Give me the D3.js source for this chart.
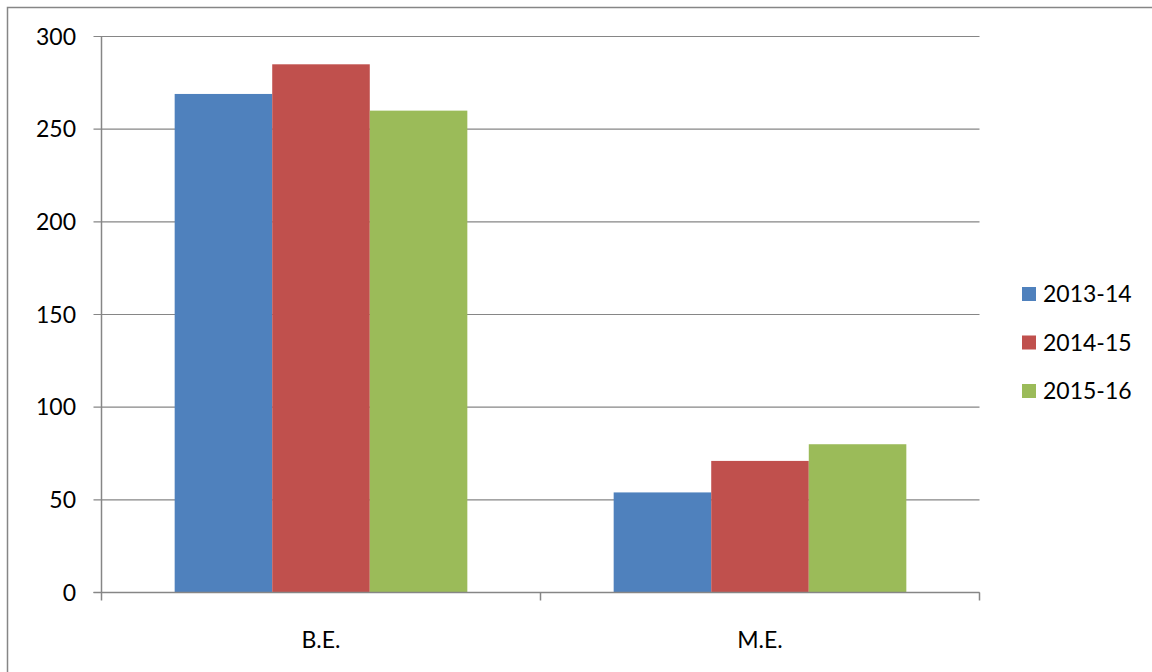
<!DOCTYPE html>
<html>
<head>
<meta charset="utf-8">
<script src="https://cdn.jsdelivr.net/npm/d3@7"></script>
<style>
  html, body { margin: 0; padding: 0; background: #fff; }
  svg { display: block; font-family: Lato, "Open Sans", sans-serif; }
</style>
</head>
<body>
<div class="container"></div>
<script>
const categories = ['B.E.', 'M.E.'];
const seriesNames = ['2013-14', '2014-15', '2015-16'];
const seriesValues = [
  [269, 54],
  [285, 71],
  [260, 80],
];
const yTicks = [0, 50, 100, 150, 200, 250, 300];
const colors = ['#4F81BD', '#C0504D', '#9BBB59'];

const width = 1152;
const height = 672;
const margin = { top: 36.5, right: 172.5, bottom: 79.5, left: 101.5 };
const gridColor = '#868686';
const fontSize = 23;

const svg = d3.select('.container')
  .append('svg')
  .attr('width', width)
  .attr('height', height);

// outer chart frame (runs off the right and bottom of the picture)
svg.append('rect')
  .attr('x', 7.5)
  .attr('y', 7.5)
  .attr('width', width + 20)
  .attr('height', height + 20)
  .attr('fill', 'none')
  .attr('stroke', gridColor)
  .attr('stroke-width', 1.5);

const x0 = d3.scaleBand()
  .domain(categories)
  .range([margin.left, width - margin.right])
  .padding(0);

const x1 = d3.scaleBand()
  .domain(seriesNames)
  .range([0, x0.bandwidth()])
  .paddingInner(0)
  .paddingOuter(0.75);

const y = d3.scaleLinear()
  .domain([0, 300])
  .range([height - margin.bottom, margin.top]);

// gridlines
svg.append('g')
  .selectAll('line')
  .data(yTicks)
  .join('line')
  .attr('x1', margin.left - 8)
  .attr('x2', width - margin.right)
  .attr('y1', (d) => y(d))
  .attr('y2', (d) => y(d))
  .attr('stroke', gridColor)
  .attr('stroke-width', 1.2);

// y axis labels
svg.append('g')
  .selectAll('text')
  .data(yTicks)
  .join('text')
  .attr('x', 76)
  .attr('y', (d) => y(d))
  .attr('dy', '0.36em')
  .attr('text-anchor', 'end')
  .attr('font-size', fontSize)
  .attr('fill', '#000')
  .text((d) => d);

// bars
const groups = svg.append('g')
  .selectAll('g')
  .data(seriesNames)
  .join('g')
  .attr('fill', (d, i) => colors[i]);

groups.selectAll('rect')
  .data((s, i) => categories.map((c, j) => ({ c, s, v: seriesValues[i][j] })))
  .join('rect')
  .attr('x', (d) => x0(d.c) + x1(d.s))
  .attr('y', (d) => y(d.v))
  .attr('width', x1.bandwidth())
  .attr('height', (d) => y(0) - y(d.v));

// axes lines
svg.append('line')
  .attr('x1', margin.left).attr('x2', margin.left)
  .attr('y1', margin.top).attr('y2', y(0))
  .attr('stroke', gridColor).attr('stroke-width', 1.5);

const xTickPos = categories.map((c) => x0(c)).concat([width - margin.right]);
svg.append('line')
  .attr('x1', margin.left - 8).attr('x2', width - margin.right)
  .attr('y1', y(0)).attr('y2', y(0))
  .attr('stroke', gridColor).attr('stroke-width', 1.5);
svg.append('g')
  .selectAll('line')
  .data(xTickPos)
  .join('line')
  .attr('x1', (d) => d).attr('x2', (d) => d)
  .attr('y1', y(0)).attr('y2', y(0) + 8)
  .attr('stroke', gridColor).attr('stroke-width', 1.5);

// category labels
svg.append('g')
  .selectAll('text')
  .data(categories)
  .join('text')
  .attr('x', (d) => x0(d) + x0.bandwidth() / 2)
  .attr('y', 640)
  .attr('dy', '0.36em')
  .attr('text-anchor', 'middle')
  .attr('font-size', fontSize)
  .attr('fill', '#000')
  .text((d) => d);

// legend
const legend = svg.append('g')
  .selectAll('g')
  .data(seriesNames)
  .join('g')
  .attr('transform', (d, i) => `translate(1022, ${294 + i * 48.5})`);

legend.append('rect')
  .attr('x', 0)
  .attr('y', -7)
  .attr('width', 14)
  .attr('height', 14)
  .attr('fill', (d, i) => colors[i]);

legend.append('text')
  .attr('x', 21)
  .attr('y', 0)
  .attr('dy', '0.36em')
  .attr('font-size', fontSize)
  .attr('fill', '#000')
  .text((d) => d);
</script>
</body>
</html>
